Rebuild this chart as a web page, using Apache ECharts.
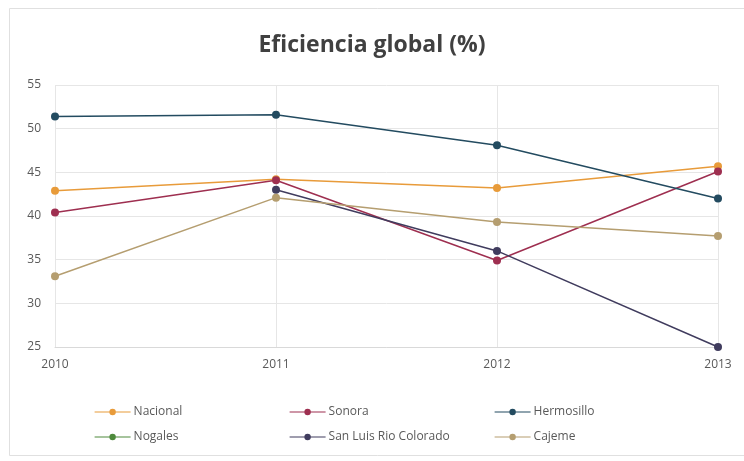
<!DOCTYPE html>
<html><head><meta charset="utf-8">
<script src="https://cdn.jsdelivr.net/npm/echarts@6/dist/echarts.min.js"></script>
<style>html,body{margin:0;padding:0;background:#fff}#c{width:744px;height:461px}</style>
</head><body><div id="c"></div>
<script>
var years = ['2010','2011','2012','2013'];
var seriesNames = ['Nacional','Sonora','Hermosillo','Nogales','San Luis Rio Colorado','Cajeme'];
var nacional = [42.9, 44.2, 43.2, 45.7];
var sonora = [40.4, 44.1, 34.9, 45.1];
var hermosillo = [51.4, 51.6, 48.1, 42.0];
var nogales = [null, null, null, null];
var sanLuis = [null, 43.0, 36.0, 25.0];
var cajeme = [33.1, 42.1, 39.3, 37.7];
var yTicks = [25, 30, 35, 40, 45, 50, 55];

var values = [nacional, sonora, hermosillo, nogales, sanLuis, cajeme];
var colors = ['#E89B3A', '#9E2F50', '#234B60', '#4E8A3C', '#403C5E', '#B59E70'];
var font = "'Open Sans', sans-serif";
var chart = echarts.init(document.getElementById('c'));

var legendCols = [[0,3],[1,4],[2,5]];
var legendLefts = [89, 284, 489];
var legends = legendCols.map(function(col, i){
  return {
    orient: 'vertical', left: legendLefts[i], top: 401, itemGap: 13,
    itemWidth: 36, itemHeight: 8, selectedMode: false,
    data: col.map(function(k){ return {name: seriesNames[k]}; }),
    itemStyle: {borderWidth: 0},
    lineStyle: {width: 1.2},
    textStyle: {color: '#595959', fontSize: 12, fontFamily: font, padding: [0,0,0,-2]}
  };
});

chart.setOption({
  backgroundColor: '#fff',
  animation: false,
  title: {text: 'Eficiencia global (%)', left: 'center', top: 29,
    textStyle: {fontFamily: font, fontWeight: 'bold', fontSize: 23, color: '#404040'}},
  graphic: [{type: 'rect', shape: {x: 9.5, y: 8.5, width: 760, height: 447},
    style: {fill: 'none', stroke: '#e0e0e0', lineWidth: 1}, silent: true}],
  legend: legends,
  grid: {left: 55, right: 26, top: 85, bottom: 114},
  xAxis: {type: 'category', data: years, boundaryGap: false,
    axisLine: {lineStyle: {color: '#d9d9d9'}}, axisTick: {show: false},
    splitLine: {show: true, lineStyle: {color: '#e6e6e6'}},
    axisLabel: {color: '#595959', fontSize: 12, fontFamily: font, margin: 12}},
  yAxis: {type: 'value', min: yTicks[0], max: yTicks[yTicks.length-1], interval: 5,
    axisLine: {show: false}, axisTick: {show: false},
    splitLine: {lineStyle: {color: '#e6e6e6'}},
    axisLabel: {color: '#595959', fontSize: 12, fontFamily: font, margin: 14}},
  series: seriesNames.map(function(n, i){
    return {name: n, type: 'line', data: values[i], color: colors[i],
      symbol: 'circle', symbolSize: 8, connectNulls: false,
      lineStyle: {width: 1.5, color: colors[i]}, itemStyle: {color: colors[i]}};
  })
});
</script></body></html>
